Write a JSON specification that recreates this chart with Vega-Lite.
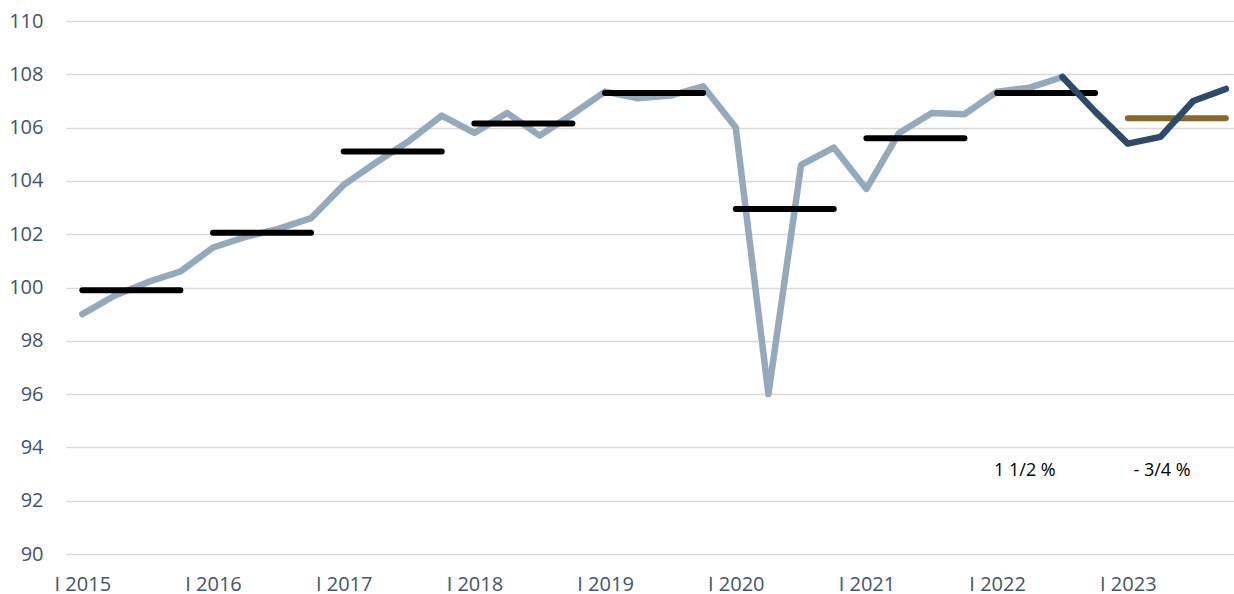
{
  "$schema": "https://vega.github.io/schema/vega-lite/v6.json",
  "width": 1168,
  "height": 533,
  "autosize": {"type": "none"},
  "padding": {"left": 66, "top": 21, "right": 0, "bottom": 40},
  "background": "white",
  "config": {
    "view": {"stroke": null},
    "font": "Open Sans",
    "axis": {"labelFont": "Open Sans", "labelFontSize": 20, "labelColor": "#44546A", "domain": false, "ticks": false, "tickSize": 0, "title": null}
  },
  "datasets": {
    "quarters": [
      {"q": 0, "value": 99.0, "series": "a"},
      {"q": 1, "value": 99.7, "series": "a"},
      {"q": 2, "value": 100.2, "series": "a"},
      {"q": 3, "value": 100.6, "series": "a"},
      {"q": 4, "value": 101.5, "series": "a"},
      {"q": 5, "value": 101.9, "series": "a"},
      {"q": 6, "value": 102.2, "series": "a"},
      {"q": 7, "value": 102.6, "series": "a"},
      {"q": 8, "value": 103.85, "series": "a"},
      {"q": 9, "value": 104.7, "series": "a"},
      {"q": 10, "value": 105.5, "series": "a"},
      {"q": 11, "value": 106.45, "series": "a"},
      {"q": 12, "value": 105.8, "series": "a"},
      {"q": 13, "value": 106.55, "series": "a"},
      {"q": 14, "value": 105.7, "series": "a"},
      {"q": 15, "value": 106.5, "series": "a"},
      {"q": 16, "value": 107.35, "series": "a"},
      {"q": 17, "value": 107.1, "series": "a"},
      {"q": 18, "value": 107.2, "series": "a"},
      {"q": 19, "value": 107.55, "series": "a"},
      {"q": 20, "value": 106.0, "series": "a"},
      {"q": 21, "value": 96.0, "series": "a"},
      {"q": 22, "value": 104.6, "series": "a"},
      {"q": 23, "value": 105.25, "series": "a"},
      {"q": 24, "value": 103.7, "series": "a"},
      {"q": 25, "value": 105.8, "series": "a"},
      {"q": 26, "value": 106.55, "series": "a"},
      {"q": 27, "value": 106.5, "series": "a"},
      {"q": 28, "value": 107.35, "series": "a"},
      {"q": 29, "value": 107.5, "series": "a"},
      {"q": 30, "value": 107.9, "series": "a"},
      {"q": 30, "value": 107.9, "series": "b"},
      {"q": 31, "value": 106.6, "series": "b"},
      {"q": 32, "value": 105.4, "series": "b"},
      {"q": 33, "value": 105.65, "series": "b"},
      {"q": 34, "value": 107.0, "series": "b"},
      {"q": 35, "value": 107.45, "series": "b"}
    ],
    "averages": [
      {"year": 2015, "start": 0, "end": 3, "avg": 99.9, "kind": "actual"},
      {"year": 2016, "start": 4, "end": 7, "avg": 102.05, "kind": "actual"},
      {"year": 2017, "start": 8, "end": 11, "avg": 105.1, "kind": "actual"},
      {"year": 2018, "start": 12, "end": 15, "avg": 106.15, "kind": "actual"},
      {"year": 2019, "start": 16, "end": 19, "avg": 107.3, "kind": "actual"},
      {"year": 2020, "start": 20, "end": 23, "avg": 102.95, "kind": "actual"},
      {"year": 2021, "start": 24, "end": 27, "avg": 105.6, "kind": "actual"},
      {"year": 2022, "start": 28, "end": 31, "avg": 107.3, "kind": "actual"},
      {"year": 2023, "start": 32, "end": 35, "avg": 106.35, "kind": "forecast"}
    ],
    "notes": [
      {"q": 28.85, "value": 93.1, "label": "1 1/2 %"},
      {"q": 33.05, "value": 93.1, "label": "- 3/4 %"}
    ]
  },
  "layer": [
    {
      "data": {"name": "quarters"},
      "transform": [{"filter": "datum.series === 'a'"}],
      "mark": {"type": "line", "strokeWidth": 6.5, "strokeJoin": "round", "strokeCap": "round", "color": "#94A9BC", "clip": false},
      "encoding": {
        "x": {
          "field": "q", "type": "quantitative",
          "scale": {"domain": [-0.5, 35.25], "nice": false, "zero": false},
          "axis": {"values": [0, 4, 8, 12, 16, 20, 24, 28, 32], "labelExpr": "'I ' + (2015 + datum.value / 4)", "grid": false, "labelPadding": 20, "labelFlush": false}
        },
        "y": {
          "field": "value", "type": "quantitative",
          "scale": {"domain": [90, 110], "nice": false, "zero": false},
          "axis": {"values": [90, 92, 94, 96, 98, 100, 102, 104, 106, 108, 110], "grid": true, "gridColor": "#D9D9D9", "gridWidth": 1.6, "labelPadding": 23}
        }
      }
    },
    {
      "data": {"name": "averages"},
      "mark": {"type": "rule", "strokeWidth": 6, "strokeCap": "round"},
      "encoding": {
        "x": {"field": "start", "type": "quantitative"},
        "x2": {"field": "end"},
        "y": {"field": "avg", "type": "quantitative"},
        "color": {
          "field": "kind", "type": "nominal",
          "scale": {"domain": ["actual", "forecast"], "range": ["#000000", "#86692B"]},
          "legend": null
        }
      }
    },
    {
      "data": {"name": "quarters"},
      "transform": [{"filter": "datum.series === 'b'"}],
      "mark": {"type": "line", "strokeWidth": 6.5, "strokeJoin": "round", "strokeCap": "round", "color": "#2E4A68", "clip": false},
      "encoding": {
        "x": {"field": "q", "type": "quantitative"},
        "y": {"field": "value", "type": "quantitative"}
      }
    },
    {
      "data": {"name": "notes"},
      "mark": {"type": "text", "font": "Open Sans", "fontSize": 18, "color": "#000000", "align": "center", "baseline": "middle"},
      "encoding": {
        "x": {"field": "q", "type": "quantitative"},
        "y": {"field": "value", "type": "quantitative"},
        "text": {"field": "label"}
      }
    }
  ]
}
